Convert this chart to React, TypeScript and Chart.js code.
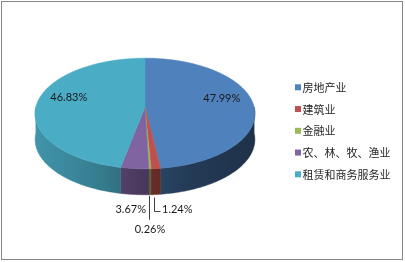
import { useEffect, useRef } from "react";
import { Chart, registerables } from "chart.js";

Chart.register(...registerables);

const categories = ["房地产业", "建筑业", "金融业", "农、林、牧、渔业", "租赁和商务服务业"];
const shares = [47.99, 1.24, 0.26, 3.67, 46.83];
const colors = ["#4F81BD", "#C0504D", "#9BBB59", "#8064A2", "#4BACC6"];

// 3D projection of the pie disc, relative to the arc radius
const TILT = 0.51; // vertical half-axis of the top face
const PERSP = 0.117; // perspective strength (front grows, back shrinks)
const DEPTH = 0.243; // thickness of the disc
const WIDEN = 1.02; // horizontal half-axis of the top face

const LABEL_FONT = '11px "Lato", "Noto Sans", sans-serif';
const LEGEND_FONT = '11px "Noto Sans CJK SC", "Noto Sans", sans-serif';

function shade(hex: string, f: number) {
  const n = parseInt(hex.slice(1), 16);
  const r = Math.round(((n >> 16) & 255) * f);
  const g = Math.round(((n >> 8) & 255) * f);
  const b = Math.round((n & 255) * f);
  return `rgb(${r},${g},${b})`;
}

const pctText = (v: number) => `${v.toFixed(2)}%`;

const pie3d = {
  id: "pie3d",
  beforeDatasetsDraw(chart: any) {
    const ctx: CanvasRenderingContext2D = chart.ctx;
    const arcs = chart.getDatasetMeta(0).data as any[];
    if (!arcs.length) return false;
    const { x: cx, y: cy, outerRadius: R } = arcs[0];
    const rx = R * WIDEN;
    const ry = R * TILT;
    const dz = R * DEPTH;
    const pt = (a: number, r = 1, z = 0) => {
      const u = Math.sin(a);
      const k = 1 / (1 - PERSP * u);
      return { x: cx + r * rx * Math.cos(a) * k, y: cy + r * ry * u * k + z };
    };
    const STEP = 0.01;
    const edge = (a0: number, a1: number, z: number) => {
      const pts = [] as { x: number; y: number }[];
      const n = Math.max(1, Math.ceil((a1 - a0) / STEP));
      for (let j = 0; j <= n; j++) pts.push(pt(a0 + ((a1 - a0) * j) / n, 1, z));
      return pts;
    };

    ctx.save();
    // outer wall, only the front half (angles 0..π) is visible
    const shadeStops = [
      [0, 0.86],
      [0.3, 0.72],
      [0.5, 0.56],
      [0.7, 0.46],
      [1, 0.38],
    ];
    arcs.forEach((arc, i) => {
      const lo = Math.max(arc.startAngle, 0);
      const hi = Math.min(arc.endAngle, Math.PI);
      if (hi <= lo) return;
      const top = edge(lo, hi, 0);
      const bottom = edge(lo, hi, dz).reverse();
      const grad = ctx.createLinearGradient(cx - rx * 1.01, 0, cx + rx * 1.01, 0);
      shadeStops.forEach(([t, f]) => grad.addColorStop(t, shade(colors[i], f)));
      ctx.beginPath();
      [...top, ...bottom].forEach((p, j) => (j ? ctx.lineTo(p.x, p.y) : ctx.moveTo(p.x, p.y)));
      ctx.closePath();
      ctx.fillStyle = grad;
      ctx.fill();
      ctx.strokeStyle = grad;
      ctx.lineWidth = 0.5;
      ctx.stroke();
    });

    // top faces
    arcs.forEach((arc, i) => {
      const pts = edge(arc.startAngle, arc.endAngle, 0);
      ctx.beginPath();
      ctx.moveTo(cx, cy);
      pts.forEach((p) => ctx.lineTo(p.x, p.y));
      ctx.closePath();
      ctx.fillStyle = colors[i];
      ctx.fill();
      ctx.strokeStyle = colors[i];
      ctx.lineWidth = 0.5;
      ctx.stroke();
    });

    // value labels
    ctx.font = LABEL_FONT;
    ctx.fillStyle = "#1a1a1a";
    ctx.strokeStyle = "#404040";
    ctx.lineWidth = 1;
    ctx.textBaseline = "middle";
    arcs.forEach((arc, i) => {
      const mid = (arc.startAngle + arc.endAngle) / 2;
      const text = pctText(shares[i]);
      if (shares[i] > 10) {
        const p = pt(mid, 0.71);
        ctx.textAlign = "center";
        ctx.fillText(text, p.x, p.y - 6);
        return;
      }
      const b = pt(mid, 1, dz);
      if (i === 1) {
        const lx = Math.round(b.x - 1.5) + 0.5;
        ctx.beginPath();
        ctx.moveTo(lx, b.y + 3);
        ctx.lineTo(lx, b.y + 17);
        ctx.lineTo(lx + 6, b.y + 17);
        ctx.stroke();
        ctx.textAlign = "left";
        ctx.fillText(text, lx + 7.5, b.y + 14.5);
      } else if (i === 2) {
        const lx = Math.round(b.x - 0.5) + 0.5;
        ctx.beginPath();
        ctx.moveTo(lx, b.y + 1);
        ctx.lineTo(lx, b.y + 25);
        ctx.stroke();
        ctx.textAlign = "center";
        ctx.fillText(text, lx + 0.5, b.y + 35);
      } else {
        ctx.textAlign = "center";
        ctx.fillText(text, b.x - 4, b.y + 14.5);
      }
    });
    ctx.restore();
    return false;
  },
  afterDraw(chart: any) {
    const ctx: CanvasRenderingContext2D = chart.ctx;
    ctx.save();
    // legend
    ctx.font = LEGEND_FONT;
    ctx.textBaseline = "middle";
    ctx.textAlign = "left";
    categories.forEach((name, i) => {
      const y = 87.3 + i * 21.75;
      ctx.fillStyle = colors[i];
      ctx.fillRect(295, y - 3, 6, 6);
      ctx.fillStyle = "#262626";
      ctx.fillText(name, 302.5, y + 0.5);
    });
    // frame
    ctx.strokeStyle = "#868686";
    ctx.lineWidth = 1;
    ctx.strokeRect(1.5, 1.5, 401, 258);
    ctx.restore();
  },
};

export default function App() {
  const canvasRef = useRef<HTMLCanvasElement>(null);

  useEffect(() => {
    const canvas = canvasRef.current;
    if (!canvas) return;
    const chart = new Chart(canvas, {
      type: "pie",
      data: {
        labels: categories,
        datasets: [
          {
            data: shares,
            backgroundColor: colors,
            borderWidth: 0,
          },
        ],
      },
      options: {
        responsive: false,
        animation: false,
        layout: { padding: { left: 35, right: 150, top: 0, bottom: 48 } },
        plugins: {
          legend: { display: false },
          tooltip: { enabled: false },
        },
      },
      plugins: [pie3d],
    });
    return () => chart.destroy();
  }, []);

  return (
    <div style={{ position: "fixed", left: 0, top: 0, width: 405, height: 262, background: "#fff" }}>
      <canvas ref={canvasRef} width={405} height={262} />
    </div>
  );
}
